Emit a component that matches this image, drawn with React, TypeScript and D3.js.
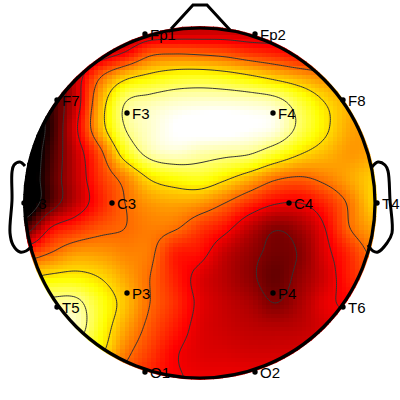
import React from "react";
import * as d3 from "d3";

const electrodeNames = ["Fp1","Fp2","F7","F3","F4","F8","T3","C3","C4","T4","T5","P3","P4","T6","O1","O2"];
const electrodeX = [145,255,57,127,273,343,24,112,289,377,57,127,273,343,145,255];
const electrodeY = [34,34,100,113,113,100,203,203,203,203,307,293,293,307,372,372];

const gridXs = [25,50,75,100,125,150,175,200,225,250,275,300,325,350,375];
const gridYs = [28,53,78,103,128,153,178,203,228,253,278,303,328,353,378];
const r28 = [5,10,15,18,22,25,26,27,28,28,30,35,40,45,50];
const r53 = [2,8,20,29,37,50,52,51,49,45,42,38,36,35,35];
const r78 = [3,10,29,53,68,74,78,79,77,73,68,63,58,55,55];
const r103 = [-5,8,29,63,87,92,95,96,96,95,92,81,70,63,62];
const r128 = [-10,6,33,64,87,95,100,102,102,100,97,84,72,62,60];
const r153 = [-10,9,29,50,76,91,95,92,90,88,80,71,65,60,62];
const r178 = [-10,11,28,45,57,71,76,78,72,64,55,52,56,62,68];
const r203 = [-10,12,28,42,53,60,62,60,53,44,37,36,43,55,69];
const r228 = [12,36,44,50,53,56,54,46,39,28,20,24,36,53,62];
const r253 = [45,53,60,60,57,55,42,39,29,22,17,20,33,44,56];
const r278 = [70,73,74,70,62,53,42,33,27,21,15,22,31,42,50];
const r303 = [90,90,90,78,66,53,44,34,29,25,19,25,34,38,45];
const r328 = [95,95,93,77,62,50,41,33,30,28,27,28,32,36,40];
const r353 = [80,80,80,72,56,46,37,33,32,31,31,32,34,36,40];
const r378 = [70,70,65,60,50,42,37,35,35,35,35,36,37,38,40];
const fieldRows = [r28,r53,r78,r103,r128,r153,r178,r203,r228,r253,r278,r303,r328,r353,r378];

const contourLevels = [2,19,36,53,70,87];
const colorStops = [0,37.5,75,100];
const colorRange = ["#000000","#ff0000","#ffff00","#ffffff"];

const earLeft: [number, number][] = [[25,166],[20,162],[14,165],[12,172],[12,200],[10,233],[13,245],[20,252],[26,251],[32,246]];
const earRight: [number, number][] = [[372,167],[378,162],[385,165],[388,171],[390,200],[392,233],[387,243],[378,252],[373,251],[368,245]];
const nose: [number, number][] = [[171,29],[193,5],[207,5],[230,30]];

const cx = 200, cy = 203, headR = 175, heatR = 177;
const cellCount = 80;
const fineCount = 177;
const x0 = cx - 177, span = 354;

const gx = d3.scaleLinear().domain([gridXs[0], gridXs[gridXs.length-1]]).range([0, gridXs.length-1]);
const gy = d3.scaleLinear().domain([gridYs[0], gridYs[gridYs.length-1]]).range([0, gridYs.length-1]);

function cr(p0:number,p1:number,p2:number,p3:number,t:number){
  return 0.5*((2*p1)+(-p0+p2)*t+(2*p0-5*p1+4*p2-p3)*t*t+(-p0+3*p1-3*p2+p3)*t*t*t);
}
function sample(px:number,py:number){
  const u=Math.max(0,Math.min(gridXs.length-1.0001,gx(px)));
  const v=Math.max(0,Math.min(gridYs.length-1.0001,gy(py)));
  const i=Math.floor(u), j=Math.floor(v);
  const rowAt=(k:number)=>{
    const r=fieldRows[Math.max(0,Math.min(fieldRows.length-1,k))];
    const g=(m:number)=>r[Math.max(0,Math.min(r.length-1,m))];
    return cr(g(i-1),g(i),g(i+1),g(i+2),u-i);
  };
  return cr(rowAt(j-1),rowAt(j),rowAt(j+1),rowAt(j+2),v-j);
}

const color = d3.scaleLinear<string>().domain(colorStops).range(colorRange).clamp(true);
const cellScale = d3.scaleLinear().domain([0,cellCount]).range([x0,x0+span]);
const cellScaleY = d3.scaleLinear().domain([0,cellCount]).range([cy-177,cy+177]);
const cellIdx = d3.range(cellCount);

const fineX = d3.scaleLinear().domain([0,fineCount-1]).range([x0,x0+span]);
const fineY = d3.scaleLinear().domain([0,fineCount-1]).range([cy-177,cy+177]);
const fineValues:number[] = [];
for(let j=0;j<fineCount;j++) for(let i=0;i<fineCount;i++) fineValues.push(sample(fineX(i),fineY(j)));
const contourData = d3.contours().size([fineCount,fineCount]).smooth(true).thresholds(contourLevels)(fineValues);
const contourPath = d3.geoPath(d3.geoTransform({
  point(x:number,y:number){ (this as any).stream.point(fineX(x-0.5),fineY(y-0.5)); }
}));
const line = d3.line().curve(d3.curveCatmullRom.alpha(0.5));
const noseLine = d3.line();

export default function App(){
  const cw = span/cellCount;
  return (
    <svg width={400} height={400} viewBox="0 0 400 400" style={{position:"absolute",left:0,top:0,background:"#fff"}}>
      <defs>
        <clipPath id="heat"><circle cx={cx} cy={cy} r={heatR}/></clipPath>
        <clipPath id="head"><circle cx={cx} cy={cy} r={headR}/></clipPath>
      </defs>
      <g clipPath="url(#heat)" shapeRendering="crispEdges">
        {cellIdx.map(j=>cellIdx.map(i=>{
          const x=cellScale(i), y=cellScaleY(j);
          return <rect key={i+"-"+j} x={x} y={y} width={cw+0.5} height={cw+0.5} fill={color(sample(x+cw/2,y+cw/2))}/>;
        }))}
      </g>
      <g clipPath="url(#head)" fill="none" stroke="#333" strokeWidth={1}>
        {contourData.map(c=><path key={c.value} d={contourPath(c as any)||""}/>)}
      </g>
      <circle cx={cx} cy={cy} r={headR} fill="none" stroke="#000" strokeWidth={3.2}/>
      <path d={noseLine(nose)||""} fill="none" stroke="#000" strokeWidth={3}/>
      <path d={line(earLeft)||""} fill="none" stroke="#000" strokeWidth={3}/>
      <path d={line(earRight)||""} fill="none" stroke="#000" strokeWidth={3}/>
      <g fontFamily="'Liberation Sans', Arial, sans-serif" fontSize={15} fill="#000">
        {electrodeNames.map((n,i)=>(
          <g key={n}>
            <circle cx={electrodeX[i]} cy={electrodeY[i]} r={2.7} fill="#000"/>
            <text x={electrodeX[i]+5} y={electrodeY[i]+6}>{n}</text>
          </g>
        ))}
      </g>
    </svg>
  );
}
